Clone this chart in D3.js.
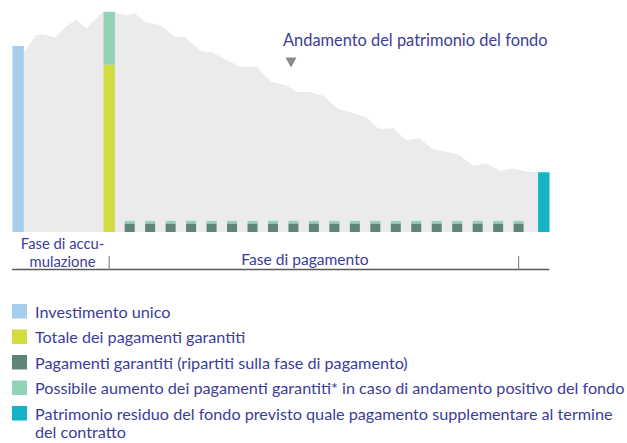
<!DOCTYPE html>
<html>
<head>
<meta charset="utf-8">
<script src="https://cdn.jsdelivr.net/npm/d3@7"></script>
<style>
  body { margin: 0; background: #fff; }
  svg { display: block; }
  text { font-family: Lato, "Open Sans", sans-serif; fill: #3b3d98; }
</style>
</head>
<body>
<svg id="chart" width="627" height="443"></svg>
<script>
// Fund value over time (t = years, 0 = start of payment phase; value in % of investment)
const fundT = [-4.16, -3.58, -3.22, -2.65, -2.06, -1.62, -1.10, -0.37, 0.28, 0.85, 1.26, 1.70,
  2.48, 3.21, 3.70, 4.52, 5.01, 6.39, 7.21, 7.89, 8.67, 9.16, 9.81, 10.46, 11.19, 11.85, 12.58,
  13.18, 13.88, 14.50, 15.15, 15.80, 16.49, 17.10, 17.79, 18.41, 19.09, 19.71, 20.40, 21.5];
const fundValue = [96.6, 105.8, 106.3, 104.5, 111.0, 114.0, 109.5, 117.9, 117.9, 116.7, 117.6, 113.1,
  111.3, 105.0, 104.7, 96.9, 96.6, 88.9, 88.9, 80.8, 78.7, 75.4, 75.1, 73.3, 66.1, 64.1, 61.5,
  55.4, 55.8, 49.5, 50.4, 44.6, 43.2, 41.4, 35.6, 36.9, 32.8, 34.2, 32.4, 32.1];

// Big bars
const investmentT = -4.45, investmentValue = 100;
const totalT = 0, totalGuaranteed = 90, totalIncrease = 28.4;
const residualT = 21.23, residualValue = 32.1;

// Payments during the payment phase
const paymentT = [1, 2, 3, 4, 5, 6, 7, 8, 9, 10, 11, 12, 13, 14, 15, 16, 17, 18, 19, 20];
const paymentGuaranteed = [4.6, 4.6, 4.6, 4.6, 4.6, 4.6, 4.6, 4.6, 4.6, 4.6,
  4.6, 4.6, 4.6, 4.6, 4.6, 4.6, 4.6, 4.6, 4.6, 4.6];
const paymentIncrease = [1.4, 1.4, 1.4, 1.4, 1.4, 1.4, 1.4, 1.4, 1.4, 1.4,
  1.4, 1.4, 1.4, 1.4, 1.4, 1.4, 1.4, 1.4, 1.4, 1.4];

// Phases
const phaseBounds = [0, 20];
const phaseLabelT = [-2.28, 9.56];
const phaseLabels = [["Fase di accu-", "mulazione"], ["Fase di pagamento"]];

const annotation = "Andamento del patrimonio del fondo";

const legendColors = ["#a6cdec", "#d0dc3f", "#5f8479", "#92d2b6", "#14b4c6"];
const legendLabels = [
  ["Investimento unico"],
  ["Totale dei pagamenti garantiti"],
  ["Pagamenti garantiti (ripartiti sulla fase di pagamento)"],
  ["Possibile aumento dei pagamenti garantiti* in caso di andamento positivo del fondo"],
  ["Patrimonio residuo del fondo previsto quale pagamento supplementare al termine", "del contratto"]
];

const [cInvest, cTotal, cPay, cIncrease, cResidual] = legendColors;

const svg = d3.select("#chart");

const x = d3.scaleLinear().domain([-4.75, 21.5]).range([12, 549.3]);
const y = d3.scaleLinear().domain([0, 100]).range([232, 46]);

const bigW = 11.4;
const smallW = 10;

// Fund area
const area = d3.area()
  .x(d => x(d[0]))
  .y0(y(0))
  .y1(d => y(d[1]));

svg.append("path")
  .datum(fundT.map((t, i) => [t, fundValue[i]]))
  .attr("fill", "#ebebed")
  .attr("d", area);

// Investment bar
svg.append("rect")
  .attr("x", x(investmentT) - bigW / 2)
  .attr("width", bigW)
  .attr("y", y(investmentValue))
  .attr("height", y(0) - y(investmentValue))
  .attr("fill", cInvest);

// Total guaranteed + possible increase
svg.append("rect")
  .attr("x", x(totalT) - bigW / 2)
  .attr("width", bigW)
  .attr("y", y(totalGuaranteed))
  .attr("height", y(0) - y(totalGuaranteed))
  .attr("fill", cTotal);

svg.append("rect")
  .attr("x", x(totalT) - bigW / 2)
  .attr("width", bigW)
  .attr("y", y(totalGuaranteed + totalIncrease))
  .attr("height", y(totalGuaranteed) - y(totalGuaranteed + totalIncrease))
  .attr("fill", cIncrease);

// Payments
const pay = svg.append("g").selectAll("g")
  .data(paymentT.map((t, i) => ({ t, g: paymentGuaranteed[i], inc: paymentIncrease[i] })))
  .join("g");

pay.append("rect")
  .attr("x", d => x(d.t) - smallW / 2)
  .attr("width", smallW)
  .attr("y", d => y(d.g))
  .attr("height", d => y(0) - y(d.g))
  .attr("fill", cPay);

pay.append("rect")
  .attr("x", d => x(d.t) - smallW / 2)
  .attr("width", smallW)
  .attr("y", d => y(d.g + d.inc))
  .attr("height", d => y(d.g) - y(d.g + d.inc))
  .attr("fill", cIncrease);

// Residual fund bar
svg.append("rect")
  .attr("x", x(residualT) - bigW / 2)
  .attr("width", bigW)
  .attr("y", y(residualValue))
  .attr("height", y(0) - y(residualValue))
  .attr("fill", cResidual);

// Annotation
svg.append("text")
  .attr("x", 283)
  .attr("y", 45.5)
  .attr("font-size", 16.4)
  .text(annotation);

svg.append("path")
  .attr("d", "M285.5,57.5 L296.5,57.5 L291,67.5 Z")
  .attr("fill", "#8a8a8c");

// Phase axis
const axisY = 269.5;
svg.append("line")
  .attr("x1", x.range()[0]).attr("x2", x.range()[1])
  .attr("y1", axisY).attr("y2", axisY)
  .attr("stroke", "#5a5a5a")
  .attr("stroke-width", 1.3);

svg.selectAll(".phase-tick")
  .data(phaseBounds)
  .join("line")
  .attr("class", "phase-tick")
  .attr("x1", d => x(d)).attr("x2", d => x(d))
  .attr("y1", 256).attr("y2", axisY)
  .attr("stroke", "#8a8a8a")
  .attr("stroke-width", 1.2);

phaseLabels.forEach((lines, i) => {
  const multi = lines.length > 1;
  lines.forEach((ln, j) => {
    svg.append("text")
      .attr("text-anchor", "middle")
      .attr("font-size", multi ? 14.8 : 15.6)
      .attr("x", x(phaseLabelT[i]))
      .attr("y", (multi ? 249 : 264.5) + j * 17.6)
      .text(ln);
  });
});

// Legend
const legendTop = 304;
const legendStep = 25.5;
const legend = svg.append("g");
legendLabels.forEach((lines, i) => {
  const top = legendTop + i * legendStep;
  legend.append("rect")
    .attr("x", 12)
    .attr("y", top)
    .attr("width", 15)
    .attr("height", 14.5)
    .attr("fill", legendColors[i]);
  const t = legend.append("text").attr("font-size", 16.2);
  lines.forEach((ln, j) => {
    t.append("tspan")
      .attr("x", 35)
      .attr("y", top + 13.7 + j * 18.5)
      .text(ln);
  });
});
</script>
</body>
</html>
